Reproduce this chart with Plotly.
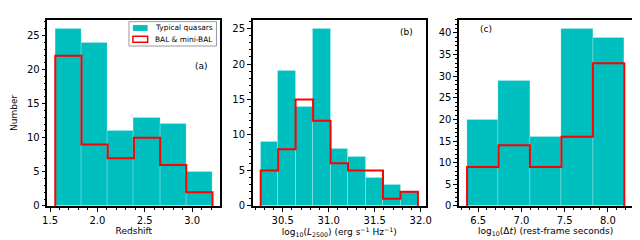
import plotly.graph_objects as go

# ---- data ----
z_edges = [1.555, 1.832, 2.108, 2.385, 2.662, 2.938, 3.215]
z_typical = [26, 24, 11, 13, 12, 5]
z_bal = [22, 9, 7, 10, 6, 2]

l_edges = [30.26, 30.45, 30.64, 30.83, 31.02, 31.21, 31.40, 31.59, 31.78, 31.97]
l_typical = [9, 19, 14, 25, 8, 7, 4, 3, 2]
l_bal = [5, 8, 15, 12, 6, 5, 5, 1, 2]

t_edges = [6.37, 6.734, 7.098, 7.462, 7.826, 8.19]
t_typical = [20, 29, 16, 41, 39]
t_bal = [9, 14, 9, 16, 33]

panel_labels = ["(a)", "(b)", "(c)"]
legend_labels = ["Typical quasars", "BAL & mini-BAL"]
x_titles = ["Redshift",
            "log<sub>10</sub>(<i>L</i><sub>2500</sub>) (erg s<sup>−1</sup> Hz<sup>−1</sup>)",
            "log<sub>10</sub>(Δ<i>t</i>) (rest-frame seconds)"]
x_ticks = [[1.5, 2.0, 2.5, 3.0], [30.5, 31.0, 31.5, 32.0], [6.5, 7.0, 7.5, 8.0]]
y_ticks = [[0, 5, 10, 15, 20, 25], [0, 5, 10, 15, 20, 25], [0, 5, 10, 15, 20, 25, 30, 35, 40]]

CYAN = "#00BFBF"
FONT = "DejaVu Sans"
W, H = 640, 240

panels = [(z_edges, z_typical, z_bal), (l_edges, l_typical, l_bal), (t_edges, t_typical, t_bal)]
x_domains = [[35 / W, 211 / W], [244 / W, 420 / W], [454 / W, 630 / W]]
y_domain = [1 - 203 / H, 1 - 12 / H]

fig = go.Figure()
layout = {}
for i, (edges, typ, bal) in enumerate(panels):
    n = i + 1
    xa = "x" if n == 1 else f"x{n}"
    ya = "y" if n == 1 else f"y{n}"
    centers = [(edges[k] + edges[k + 1]) / 2 for k in range(len(typ))]
    widths = [edges[k + 1] - edges[k] for k in range(len(typ))]
    fig.add_trace(go.Bar(x=centers, y=typ, width=widths, xaxis=xa, yaxis=ya,
                         marker=dict(color=CYAN, line=dict(color="rgba(255,255,255,0.35)", width=0.6)),
                         name="Typical quasars", showlegend=False))
    # step outline
    sx = [edges[0]] + list(edges) + [edges[-1]]
    sy = [0] + list(bal) + [bal[-1], 0]
    fig.add_trace(go.Scatter(x=sx, y=sy, mode="lines", line=dict(color="red", width=2, shape="hv"),
                             xaxis=xa, yaxis=ya, showlegend=False, hoverinfo="skip",
                             name="BAL & mini-BAL"))
    w = edges[-1] - edges[0]
    xr = [edges[0] - 0.05 * w, edges[-1] + 0.05 * w]
    yr = [0, max(max(typ), max(bal)) * 1.05]
    axis_common = dict(showline=True, linecolor="black", linewidth=1.5, mirror=True,
                       ticks="outside", ticklen=4, tickwidth=1, tickcolor="black",
                       showgrid=False, zeroline=False,
                       tickfont=dict(family=FONT, size=10, color="black"))
    layout["xaxis" if n == 1 else f"xaxis{n}"] = dict(
        axis_common, domain=x_domains[i], anchor=ya, range=xr,
        tickvals=x_ticks[i], ticktext=[f"{v:.1f}" for v in x_ticks[i]],
        minor=dict(dtick=0.1, ticks="outside", ticklen=2, tickcolor="black", showgrid=False),
        title=dict(text=x_titles[i], font=dict(family=FONT, size=9, color="black"), standoff=0))
    layout["yaxis" if n == 1 else f"yaxis{n}"] = dict(
        axis_common, domain=y_domain, anchor=xa, range=yr, tickvals=y_ticks[i],
        minor=dict(dtick=1, ticks="outside", ticklen=2, tickcolor="black", showgrid=False),
        title=dict(text="Number" if n == 1 else "", font=dict(family=FONT, size=9, color="black"), standoff=8))

label_pos = [(192, 59), (400, 25), (481, 22)]
annotations = []
for i, (px, py) in enumerate(label_pos):
    annotations.append(dict(text=panel_labels[i], x=px / W, y=1 - py / H, xref="paper", yref="paper",
                            showarrow=False, font=dict(family=FONT, size=9, color="black"),
                            xanchor="center", yanchor="middle"))

# manual legend (compact, matplotlib-like)
shapes = [
    dict(type="rect", xref="paper", yref="paper", x0=118 / W, x1=207 / W, y0=1 - 39 / H, y1=1 - 14 / H,
         line=dict(color="#999", width=1), fillcolor="white", layer="above"),
    dict(type="rect", xref="paper", yref="paper", x0=122 / W, x1=137 / W, y0=1 - 23.5 / H, y1=1 - 17.5 / H,
         line=dict(width=0), fillcolor=CYAN, layer="above"),
    dict(type="rect", xref="paper", yref="paper", x0=122 / W, x1=137 / W, y0=1 - 35 / H, y1=1 - 29 / H,
         line=dict(color="red", width=1.5), fillcolor="white", layer="above"),
]
for j, (lbl, yy) in enumerate(zip(legend_labels, [20.5, 32])):
    annotations.append(dict(text=lbl, x=142 / W, y=1 - yy / H, xref="paper", yref="paper",
                            showarrow=False, font=dict(family=FONT, size=7.4, color="black"),
                            xanchor="left", yanchor="middle"))

fig.update_layout(**layout)
fig.update_layout(
    width=W, height=H, margin=dict(l=0, r=0, t=0, b=0),
    paper_bgcolor="white", plot_bgcolor="white", barmode="overlay", bargap=0,
    annotations=annotations, shapes=shapes, showlegend=False,
    font=dict(family=FONT),
)
fig.write_html("out.html")
